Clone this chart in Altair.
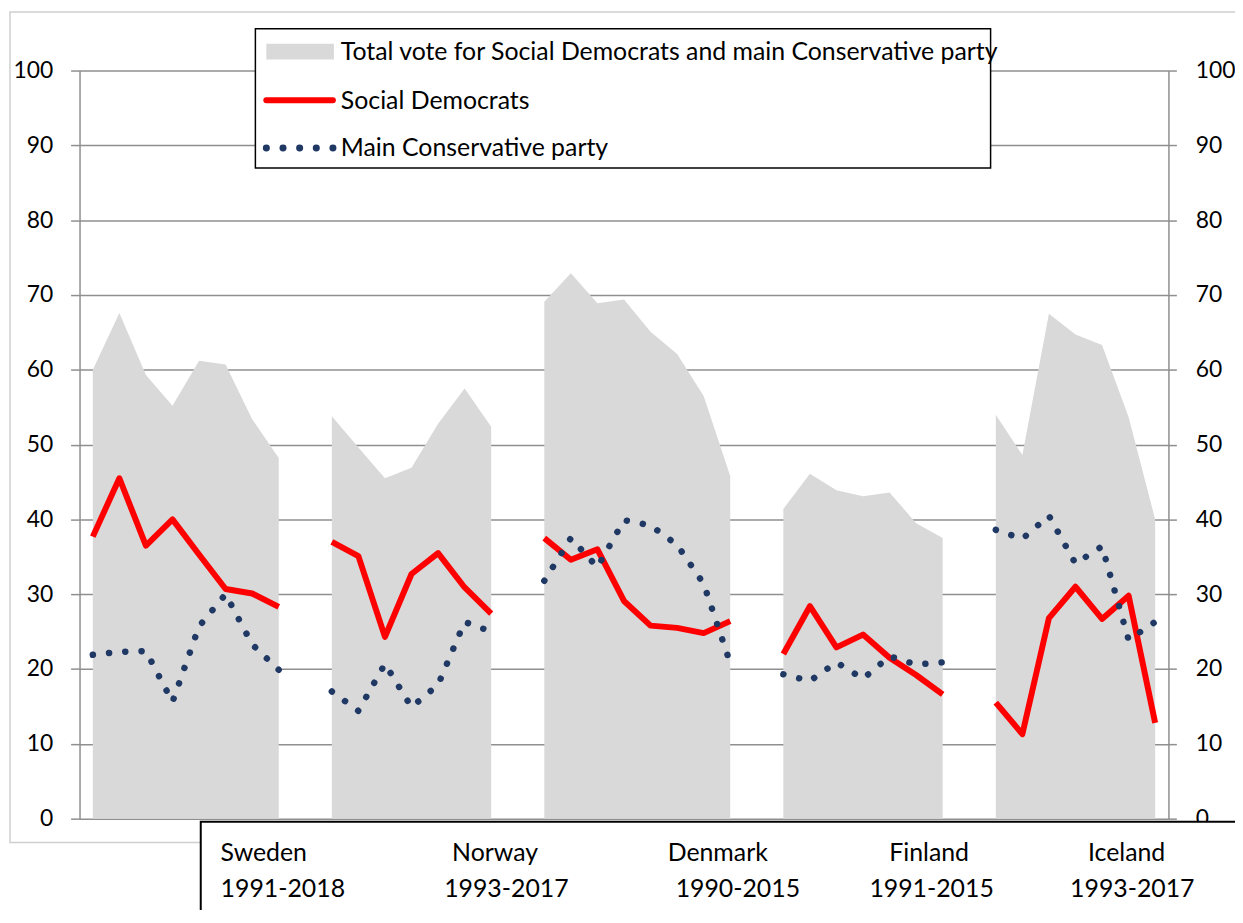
import altair as alt
import pandas as pd

FONT = "Lato"

countries = ["Sweden", "Norway", "Denmark", "Finland", "Iceland"]
periods = ["1991-2018", "1993-2017", "1990-2015", "1991-2015", "1993-2017"]

legend_labels = [
    "Total vote for Social Democrats and main Conservative party",
    "Social Democrats",
    "Main Conservative party",
]

# total vote (SD + main conservative), per election
sweden_total = [60.0, 67.6, 59.3, 55.2, 61.2, 60.7, 53.4, 48.2]
norway_total = [53.8, 49.6, 45.5, 46.9, 52.8, 57.5, 52.4]
denmark_total = [69.1, 72.9, 68.9, 69.4, 65.1, 62.1, 56.5, 45.8]
finland_total = [41.4, 46.1, 43.9, 43.1, 43.6, 39.5, 37.5]
iceland_total = [54.0, 48.6, 67.5, 64.7, 63.3, 53.7, 40.0]

# Social Democrats
sweden_sd = [37.7, 45.5, 36.5, 40.0, 35.3, 30.7, 30.1, 28.3]
norway_sd = [37.0, 35.1, 24.3, 32.7, 35.5, 30.9, 27.4]
denmark_sd = [37.5, 34.6, 36.0, 29.1, 25.8, 25.5, 24.8, 26.4]
finland_sd = [22.0, 28.4, 22.9, 24.6, 21.5, 19.2, 16.6]
iceland_sd = [15.5, 11.3, 26.8, 31.0, 26.7, 29.8, 12.8]

# Main Conservative party
sweden_cons = [21.9, 22.3, 22.4, 15.6, 25.7, 30.0, 23.3, 19.9]
norway_cons = [17.0, 14.4, 20.7, 14.9, 17.9, 26.3, 25.0]
denmark_cons = [31.8, 37.5, 33.6, 39.9, 39.2, 36.6, 31.4, 20.8]
finland_cons = [19.3, 18.4, 20.9, 18.7, 21.7, 20.6, 20.9]
iceland_cons = [38.6, 37.4, 40.5, 34.1, 36.4, 23.9, 26.3]

totals = [sweden_total, norway_total, denmark_total, finland_total, iceland_total]
sds = [sweden_sd, norway_sd, denmark_sd, finland_sd, iceland_sd]
conss = [sweden_cons, norway_cons, denmark_cons, finland_cons, iceland_cons]

rows = []
idx = 0
for c, tot, sd, con in zip(countries, totals, sds, conss):
    for k in range(len(tot)):
        rows.append(dict(country=c, i=idx, total=tot[k], sd=sd[k], cons=con[k]))
        idx += 1
    idx += 1  # empty category between countries
df = pd.DataFrame(rows)
xmax = idx - 1.5

W, H = 1096, 753
GRID = "#8f8f8f"
RED = "#ff0000"
NAVY = "#1f3864"
GREY = "#d9d9d9"

xenc = alt.X("i:Q", scale=alt.Scale(domain=[-0.5, xmax], nice=False, zero=False), axis=None)
yscale = alt.Scale(domain=[0, 100], nice=False)

left_axis = alt.Axis(orient="left", values=list(range(0, 101, 10)), grid=True,
                     gridColor=GRID, gridWidth=1.5, domainColor=GRID, domainWidth=1.5,
                     tickColor=GRID, tickWidth=1.5, tickSize=9, labelPadding=18,
                     labelFont=FONT, labelFontSize=23, labelColor="#000000", title=None)
right_axis = alt.Axis(orient="right", values=list(range(0, 101, 10)), grid=False,
                      domainColor=GRID, domainWidth=1.5,
                      tickColor=GRID, tickWidth=1.5, tickSize=8, labelPadding=19,
                      labelFont=FONT, labelFontSize=23, labelColor="#000000", title=None)

base = alt.Chart(df)

area = base.mark_area(color=GREY, interpolate="linear").encode(
    x=xenc, y=alt.Y("total:Q", scale=yscale, axis=left_axis, stack=None), detail="country:N")
sd_line = base.mark_line(color=RED, strokeWidth=6, strokeJoin="round", strokeCap="butt").encode(
    x=xenc, y=alt.Y("sd:Q", scale=yscale, axis=right_axis), detail="country:N")
cons_line = base.mark_line(color=NAVY, strokeWidth=6.5, strokeDash=[0.1, 16.3],
                           strokeCap="round").encode(
    x=xenc, y=alt.Y("cons:Q", scale=yscale, axis=None), detail="country:N")

one = alt.Chart(pd.DataFrame({"k": [0]}))

outer = one.mark_rect(filled=False, stroke="#cfcfcf", strokeWidth=1.5).encode(
    x=alt.value(-70), x2=alt.value(W + 200), y=alt.value(-59), y2=alt.value(H + 24))

# legend box
leg_box = one.mark_rect(fill="white", stroke="black", strokeWidth=1.5).encode(
    x=alt.value(177), x2=alt.value(917), y=alt.value(-42), y2=alt.value(98))
leg_sw = one.mark_rect(fill=GREY).encode(
    x=alt.value(188), x2=alt.value(256), y=alt.value(-27), y2=alt.value(-11))
leg_red = one.mark_rule(color=RED, strokeWidth=6, strokeCap="round").encode(
    x=alt.value(188), x2=alt.value(255), y=alt.value(30))
leg_dot = one.mark_rule(color=NAVY, strokeWidth=7, strokeCap="round",
                        strokeDash=[0.1, 16.65]).encode(
    x=alt.value(188), x2=alt.value(256), y=alt.value(78))
leg_texts = [
    one.mark_text(align="left", baseline="middle", font=FONT, fontSize=25, color="black").encode(
        x=alt.value(263), y=alt.value(yy), text=alt.value(lab))
    for lab, yy in zip(legend_labels, [-19, 31, 78])
]

# bottom label box
lab_box = one.mark_rect(fill="white", stroke="black", strokeWidth=2).encode(
    x=alt.value(122), x2=alt.value(W + 200), y=alt.value(756), y2=alt.value(H + 300))
row1_x = [142, 375, 592, 815, 1015]
row2_x = [142, 367, 600, 795, 997]
lab_texts = []
for c, p, x1, x2 in zip(countries, periods, row1_x, row2_x):
    lab_texts.append(one.mark_text(align="left", baseline="middle", font=FONT, fontSize=25,
                                   color="black").encode(x=alt.value(x1), y=alt.value(788),
                                                         text=alt.value(c)))
    lab_texts.append(one.mark_text(align="left", baseline="middle", font=FONT, fontSize=25,
                                   color="black").encode(x=alt.value(x2), y=alt.value(824),
                                                         text=alt.value(p)))

chart = alt.layer(
    outer, area, sd_line, cons_line, leg_box, leg_sw, leg_red, leg_dot, *leg_texts,
    lab_box, *lab_texts
).resolve_axis(y="independent").properties(
    width=W, height=H,
    autosize=alt.AutoSizeParams(type="none"),
    padding={"left": 72, "top": 60, "right": 67, "bottom": 89},
    background="white",
).configure_view(stroke=None)

chart.save("out.html", embed_options={"renderer": "svg", "actions": False})
